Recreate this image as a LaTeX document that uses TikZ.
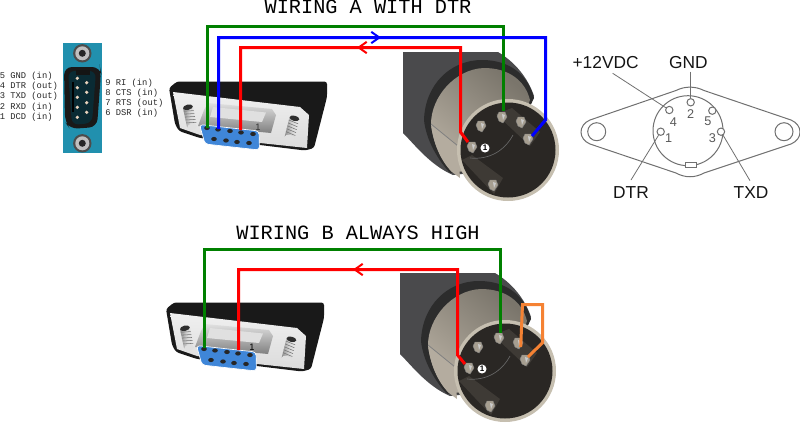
\documentclass[tikz,border=0pt]{standalone}
\usepackage{fontspec}
\setmainfont{Liberation Sans}
\setmonofont{Liberation Mono}
\usetikzlibrary{arrows.meta}
\definecolor{wgreen}{HTML}{008000}
\definecolor{wblue}{HTML}{0000FF}
\definecolor{wred}{HTML}{FF0000}
\definecolor{worange}{HTML}{F58233}
\definecolor{teal0}{HTML}{2190AE}
\definecolor{dbblue}{HTML}{3F86D8}
\definecolor{linegray}{HTML}{707070}
\definecolor{bodygray}{HTML}{4A4A4C}
\definecolor{collar}{HTML}{2C2C2C}
\definecolor{silverD}{HTML}{7A756B}
\definecolor{silverL}{HTML}{B4AC9F}
\definecolor{rimc}{HTML}{C6BFB0}
\definecolor{facec}{HTML}{2A2724}
\definecolor{slabc}{HTML}{3E3A35}
\definecolor{pinc}{HTML}{A69E90}
\tikzset{
  wire/.style={line width=2.25pt,line join=miter},
  wirearrow/.style={line width=2.25pt,-{Straight Barb[length=6pt,width=8.5pt,line width=1.5pt]}},
  titletext/.style={font=\ttfamily\fontsize{15.2}{16}\selectfont,inner sep=0pt},
  pintext/.style={font=\ttfamily\fontsize{6.6}{7}\selectfont,inner sep=0pt,anchor=west,text=black!85},
  outline/.style={draw=linegray,line width=0.75pt},
  leader/.style={draw=linegray,line width=0.6pt},
  dinlabel/.style={font=\fontsize{13}{14}\selectfont,inner sep=0pt,text=black!92},
  dinnum/.style={font=\fontsize{9.5}{10}\selectfont,inner sep=0pt,text=black!65},
  smallpin/.style={outline,fill=white},
}
% #1,#2 centre, #3 tilt
\newcommand{\screwdraw}[3]{%
  \begin{scope}[rotate around={#3:(#1,#2)}]
  \shade[left color=black!45,right color=black!8,middle color=white!85!black] (#1-5,#2-10) rectangle (#1+5,#2+10);
  \foreach \k in {-7,-4,-1,2,5}{\draw[black!55,line width=0.4pt] (#1-5,#2+\k) -- (#1+5,#2+\k+1.5);}
  \fill[black!82] (#1,#2-10) ellipse (5 and 2.6);
  \fill[white!88!black] (#1,#2+10) ellipse (5 and 3);
  \end{scope}
}
\newcommand{\DBnine}[1]{%
\begin{scope}[shift={#1}]
  \fill[black!90,rounded corners=2pt] (169,88) -- (177,81.5) -- (327,81.5) -- (327,97) -- (314,148) -- (305,150.5) -- (260,145) -- (200,138) -- (179,131) -- (175,124) -- cycle;
  \shade[top color=white!94!black,bottom color=white!86!black] (173,92) -- (300,107) -- (309,115) -- (307,148) -- (260,143) -- (200,135) -- (180,128) -- cycle;
  \shade[top color=black!12,bottom color=black!50] (208,103) -- (272,109) -- (276,115) -- (271,133) -- (198,126) -- (204,110) -- cycle;
  \fill[white!88!black] (213,107) -- (266,112.5) -- (262,122) -- (210,117) -- cycle;
  \screwdraw{190}{117}{12}
  \screwdraw{292}{128}{-14}
  \fill[dbblue,draw=white,line width=0.5pt,rounded corners=2.5pt] (199.5,124.5) -- (259,131) -- (259.5,150) -- (205,144) -- cycle;
  \foreach \xx/\yy in {207/128,218/129.5,230/131,241/132.5,253/134,214/139,226/140.5,237/142,249/143}
    {\fill[black!85] (\xx,\yy) ellipse (2.8 and 2.1);}
\end{scope}}
\newcommand{\dinpin}[2]{%
  \fill[pinc,draw=black!50,line width=0.3pt] (#1-5,#2-1) -- (#1-3,#2-5) -- (#1+3,#2-5) -- (#1+5,#2) -- (#1+1,#2+6) -- (#1-3,#2+4) -- cycle;
  \fill[white!80!black] (#1,#2-3) -- (#1+3,#2-2) -- (#1+1,#2+3) -- cycle;
}
\newcommand{\DINplug}[1]{%
\begin{scope}[shift={#1}]
  \fill[bodygray] (403,52) -- (498,52) .. controls (515,62) and (528,78) .. (534,96) -- (500,170) -- (453,175) .. controls (430,165) and (415,145) .. (403,133) -- cycle;
  \fill[collar] (424,120) .. controls (425,85) and (450,60) .. (482,60) .. controls (510,60) and (528,75) .. (534,98) -- (500,170) -- (450,173) .. controls (438,160) and (426,140) .. (424,120) -- cycle;
  \shade[left color=silverD,right color=silverL,shading angle=-40] (431,124) .. controls (431,97) and (455,69) .. (484,68) .. controls (508,68) and (525,80) .. (530,100) -- (505,170) -- (452,172) .. controls (440,160) and (433,142) .. (431,124) -- cycle;
  \fill[silverL] (431,124) -- (458,146) -- (460,178) -- (452,172) .. controls (441,160) and (433,142) .. (431,124) -- cycle;
  \draw[black!50,line width=0.6pt] (431,124) -- (458,146);
  \fill[rimc] (508,150) circle (51);
  \fill[facec] (508,150) circle (47.5);
  \fill[slabc] (496,114) -- (512,108) -- (540,132) -- (530,146) -- cycle;
  \fill[slabc] (462,160) -- (472,155) -- (503,178) -- (494,194) -- cycle;
  \draw[black!60,line width=0.5pt] (470,158) .. controls (490,160) and (505,150) .. (513,135);
  \dinpin{502}{117}
  \dinpin{481}{126}
  \dinpin{521}{122}
  \dinpin{528}{139}
  \dinpin{472}{147}
  \dinpin{493}{185}
\end{scope}}
\begin{document}
\begin{tikzpicture}[x=0.75pt,y=-0.75pt]
\useasboundingbox (0,0) rectangle (800,426);
% --- titles
\node[titletext] (titleA) at (368,7) {WIRING A WITH DTR};
\node[titletext] (titleB) at (358,232.5) {WIRING B ALWAYS HIGH};
% --- DE-9 male board
\fill[teal0] (63.3,43.3) rectangle (101.7,153.3);
\foreach \yy in {53.3,143.3}{
  \fill[black!70] (82.3,\yy) circle (9.2);
  \fill[black!25] (82.3,\yy) circle (7);
  \fill[black!85] (82.3,\yy) circle (3.5);
}
\fill[black!90,rounded corners=6pt] (64,67) -- (100,67) -- (101,72) -- (97,127) -- (70,129) -- (65,122) -- cycle;
\fill[black!70!teal0,rounded corners=5pt] (68,71) -- (96,71) -- (92,123) -- (72,125) -- cycle;
\fill[black!92] (76,70) rectangle (90,75);
\fill[black] (72,82) rectangle (73.5,112);
\foreach \yy in {78.3,87.7,97.3,107.3,117.3}{\fill[white!65!brown] (77.3,\yy) circle (1.8);}
\foreach \yy in {82.7,92.3,102.7,112.3}{\fill[white!65!brown] (86.7,\yy) circle (1.8);}
\node[pintext] (p5) at (-0.5,76.7) {5 GND (in)};
\node[pintext] (p4) at (-0.5,86.7) {4 DTR (out)};
\node[pintext] (p3) at (-0.5,96.7) {3 TXD (out)};
\node[pintext] (p2) at (-0.5,107) {2 RXD (in)};
\node[pintext] (p1) at (-0.5,117) {1 DCD (in)};
\node[pintext] (p9) at (105,83.3) {9 RI (in)};
\node[pintext] (p8) at (105,93.3) {8 CTS (in)};
\node[pintext] (p7) at (105,103.7) {7 RTS (out)};
\node[pintext] (p6) at (105,113.7) {6 DSR (in)};
% --- connector pictures
\DBnine{(0,0)}
\DBnine{(-3,221)}
\DINplug{(0,0)}
\DINplug{(-3,221)}
\node[font=\fontsize{7}{8}\selectfont,inner sep=0pt,text=black!80] (oneA) at (258,127) {1};
\node[font=\fontsize{7}{8}\selectfont,inner sep=0pt,text=black] (oneB) at (252,347) {1};
\node[circle,fill=white,inner sep=0pt,minimum size=6.8pt,font=\bfseries\fontsize{6}{6}\selectfont] (din1A) at (485,148) {1};
\node[circle,fill=white,inner sep=0pt,minimum size=6.8pt,font=\bfseries\fontsize{6}{6}\selectfont] (din1B) at (482,369) {1};
% --- wiring A
\coordinate (gA) at (207.5,128);
\coordinate (gA1) at (207.5,26.5);
\coordinate (gA2) at (503.5,26.5);
\coordinate (gA3) at (503.5,111);
\coordinate (bA) at (218.5,129);
\coordinate (bA1) at (218.5,37.5);
\coordinate (bA2) at (545.5,37.5);
\coordinate (bA3) at (545.5,120);
\coordinate (bA4) at (532,136);
\coordinate (bAa) at (370,37.5);
\coordinate (bAb) at (381,37.5);
\coordinate (rA) at (240.5,130);
\coordinate (rA1) at (240.5,47.5);
\coordinate (rA2) at (460.5,47.5);
\coordinate (rA3) at (460.5,132);
\coordinate (rA4) at (468,142);
\coordinate (rAa) at (368,47.5);
\coordinate (rAb) at (357,47.5);
\draw[wire,wgreen] (gA) -- (gA1) -- (gA2) -- (gA3);
\draw[wire,wblue] (bA) -- (bA1) -- (bA2) -- (bA3) -- (bA4);
\draw[wire,wred] (rA) -- (rA1) -- (rA2) -- (rA3) -- (rA4);
\draw[wirearrow,wblue] (bAa) -- (bAb);
\draw[wirearrow,wred] (rAa) -- (rAb);
% --- wiring B
\coordinate (gB) at (204.5,348);
\coordinate (gB1) at (204.5,249.5);
\coordinate (gB2) at (500.5,249.5);
\coordinate (gB3) at (500.5,333);
\coordinate (rB) at (238.5,350);
\coordinate (rB1) at (238.5,269.5);
\coordinate (rB2) at (457.5,269.5);
\coordinate (rB3) at (457.5,355);
\coordinate (rB4) at (465,364);
\coordinate (rBa) at (364,269.5);
\coordinate (rBb) at (353,269.5);
\coordinate (oB) at (520.7,347);
\coordinate (oB1) at (522.5,304.5);
\coordinate (oB2) at (542.5,304.5);
\coordinate (oB3) at (542.5,342.7);
\coordinate (oB4) at (528,357);
\draw[wire,wgreen] (gB) -- (gB1) -- (gB2) -- (gB3);
\draw[wire,wred] (rB) -- (rB1) -- (rB2) -- (rB3) -- (rB4);
\draw[wirearrow,wred] (rBa) -- (rBb);
\draw[wire,worange] (oB) -- (oB1) -- (oB2) -- (oB3) -- (oB4);
% --- DIN drawing
\draw[outline] (590,120) -- (676,90.5) .. controls (685,86) and (695,86) .. (704,90.5) -- (791,120)
  .. controls (803,125) and (803,139) .. (791,144) -- (704,173) .. controls (695,178) and (685,178) .. (676,173) -- (590,144)
  .. controls (578,139) and (578,125) .. (590,120) -- cycle;
\draw[outline,fill=white] (596.7,131.7) circle (9);
\draw[outline,fill=white] (784,131.7) circle (9);
\draw[outline,fill=white] (688,130.7) circle (35);
\draw[outline,fill=white] (685,162.3) rectangle (696.7,167.3);
\node[smallpin,circle,inner sep=0pt,minimum size=5.5pt] (d2) at (690.7,102.3) {};
\node[smallpin,circle,inner sep=0pt,minimum size=5.5pt] (d4) at (669.3,110) {};
\node[smallpin,circle,inner sep=0pt,minimum size=5.5pt] (d5) at (712.3,110.7) {};
\node[smallpin,circle,inner sep=0pt,minimum size=5.5pt] (d1) at (660.7,131.7) {};
\node[smallpin,circle,inner sep=0pt,minimum size=5.5pt] (d3) at (721,131.7) {};
\node[dinnum] at (690.7,114) {2};
\node[dinnum] at (673.3,121.7) {4};
\node[dinnum] at (708,120.7) {5};
\node[dinnum] at (668.7,137.7) {1};
\node[dinnum] at (712.3,137.7) {3};
\node[dinlabel] (l12) at (605.6,62.5) {+12VDC};
\node[dinlabel] (lgnd) at (688.3,62.3) {GND};
\node[dinlabel] (ldtr) at (631,192.3) {DTR};
\node[dinlabel] (ltxd) at (751,192.3) {TXD};
\coordinate (l12a) at (612.7,73.3);
\coordinate (lgnda) at (690.7,71.7);
\coordinate (ldtra) at (631,180);
\coordinate (ltxda) at (750,180.7);
\draw[leader] (l12a) -- (d4);
\draw[leader] (lgnda) -- (d2);
\draw[leader] (ldtra) -- (d1);
\draw[leader] (ltxda) -- (d3);
\end{tikzpicture}
\end{document}
